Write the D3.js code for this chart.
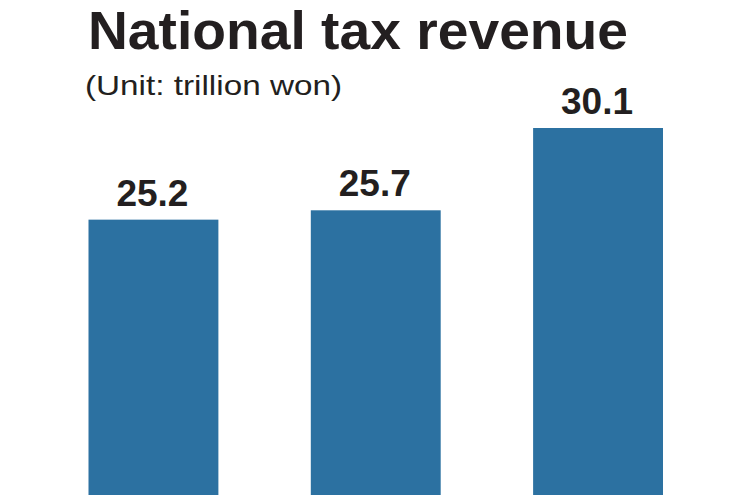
<!DOCTYPE html>
<html>
<head>
<meta charset="utf-8">
<script src="https://cdn.jsdelivr.net/npm/d3@7"></script>
<style>
  html, body { margin: 0; padding: 0; background: #ffffff; }
  svg { display: block; }
</style>
</head>
<body>
<svg id="chart" width="750" height="495"></svg>
<script>
const title = "National tax revenue";
const subtitle = "(Unit: trillion won)";
const categories = ["A", "B", "C"];
const values = [25.2, 25.7, 30.1];

const svg = d3.select("#chart");
const W = 750, H = 495;

svg.append("rect").attr("width", W).attr("height", H).attr("fill", "#ffffff");

const x = d3.scaleBand()
  .domain(categories)
  .range([88.5, 663])
  .paddingInner(0.4157)
  .paddingOuter(0);

const y = d3.scaleLinear().domain([0, 30.1]).range([691, 128]);

svg.append("text")
  .attr("x", 88).attr("y", 49)
  .attr("font-family", "Liberation Sans, Arial, sans-serif")
  .attr("font-weight", "bold")
  .attr("font-size", 54)
  .attr("fill", "#231f20")
  .attr("textLength", 540)
  .attr("lengthAdjust", "spacingAndGlyphs")
  .text(title);

svg.append("text")
  .attr("x", 85).attr("y", 95)
  .attr("font-family", "Liberation Sans, Arial, sans-serif")
  .attr("font-size", 28)
  .attr("fill", "#231f20")
  .attr("textLength", 257)
  .attr("lengthAdjust", "spacingAndGlyphs")
  .text(subtitle);

const g = svg.append("g");

g.selectAll("rect.bar")
  .data(values)
  .join("rect")
  .attr("class", "bar")
  .attr("x", (d, i) => x(categories[i]))
  .attr("width", x.bandwidth())
  .attr("y", d => y(d))
  .attr("height", d => H - y(d) + 5)
  .attr("fill", "#2c71a1");

g.selectAll("text.val")
  .data(values)
  .join("text")
  .attr("class", "val")
  .attr("x", (d, i) => x(categories[i]) + x.bandwidth() / 2 - 1)
  .attr("y", d => y(d) - 14)
  .attr("text-anchor", "middle")
  .attr("font-family", "Liberation Sans, Arial, sans-serif")
  .attr("font-weight", "bold")
  .attr("font-size", 37)
  .attr("fill", "#231f20")
  .text(d => d.toFixed(1));
</script>
</body>
</html>
